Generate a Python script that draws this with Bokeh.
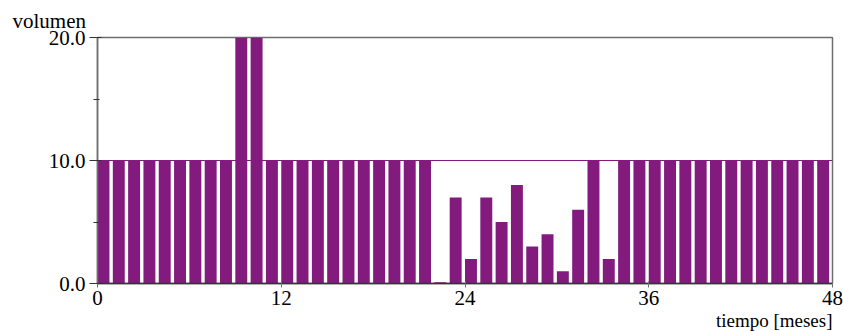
from bokeh.plotting import figure
from bokeh.models import Range1d, FixedTicker, PrintfTickFormatter, Title
from bokeh.embed import file_html
from bokeh.resources import INLINE

# data
months = list(range(48))
volumen = [10, 10, 10, 10, 10, 10, 10, 10, 10, 20, 20, 10, 10, 10, 10, 10,
           10, 10, 10, 10, 10, 10, 0.1, 7, 2, 7, 5, 8, 3, 4, 1, 6,
           10, 2, 10, 10, 10, 10, 10, 10, 10, 10, 10, 10, 10, 10, 10, 10]
ref_x = [0, 48]
ref_y = [10, 10]
x_ticks = [0, 12, 24, 36, 48]
y_ticks = [0, 10, 20]
y_minor = [5, 15]

PURPLE = "#831b7f"
GREY = "#6e6e6e"
FONT = "Liberation Serif"

p = figure(frame_width=735, frame_height=246, output_backend="svg",
           toolbar_location=None, x_range=Range1d(0, 48), y_range=Range1d(0, 20),
           min_border_left=97, min_border_right=11, min_border_top=37,
           min_border_bottom=48)
p.background_fill_color = "white"
p.border_fill_color = "white"
p.outline_line_color = GREY
p.outline_line_width = 1.5
p.xgrid.visible = False
p.ygrid.visible = False

p.line(ref_x, ref_y, line_color=PURPLE, line_width=1.2)
bar_w = 0.78
p.vbar(x=[m + bar_w / 2 for m in months], top=volumen, width=bar_w, bottom=0,
       fill_color=PURPLE, line_color=None)

xa = p.xaxis[0]
xa.ticker = FixedTicker(ticks=x_ticks, minor_ticks=[])
xa.axis_line_color = "#333333"
xa.axis_line_width = 1.5
xa.major_tick_line_color = GREY
xa.major_tick_in = 2
xa.major_tick_out = 4
xa.minor_tick_line_color = None
xa.major_label_text_font = FONT
xa.major_label_text_font_size = "21px"
xa.major_label_text_color = "black"
xa.major_label_standoff = 3

ya = p.yaxis[0]
ya.ticker = FixedTicker(ticks=y_ticks, minor_ticks=y_minor)
ya.formatter = PrintfTickFormatter(format="%.1f")
ya.axis_line_color = GREY
ya.axis_line_width = 1.5
ya.major_tick_line_color = "#333333"
ya.major_tick_in = 4
ya.major_tick_out = 8
ya.minor_tick_line_color = "#333333"
ya.minor_tick_in = 2
ya.minor_tick_out = 4
ya.major_label_text_font = FONT
ya.major_label_text_font_size = "21px"
ya.major_label_text_color = "black"
ya.major_label_standoff = 4

top_title = Title(text="volumen", align="left", offset=-85, standoff=10,
                  text_font=FONT, text_font_size="21px", text_color="black",
                  text_font_style="normal")
p.add_layout(top_title, "above")
bottom_title = Title(text="tiempo [meses]", align="right", offset=0, standoff=0,
                     text_font=FONT, text_font_size="19px", text_color="black",
                     text_font_style="normal")
p.add_layout(bottom_title, "below")

open("out.html", "w").write(file_html(p, INLINE))
